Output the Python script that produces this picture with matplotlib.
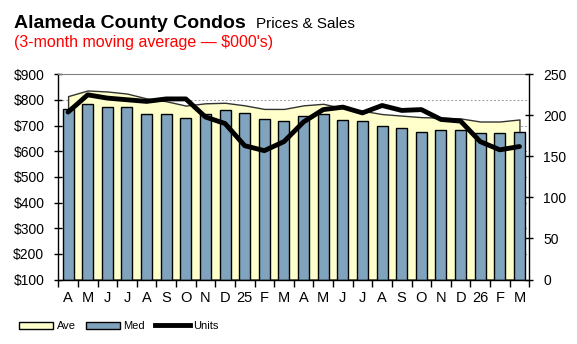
import matplotlib
matplotlib.use("Agg")
import matplotlib.pyplot as plt
from matplotlib.patches import Patch
from matplotlib.lines import Line2D
from matplotlib.ticker import FixedLocator

plt.rcParams["font.family"] = ["Liberation Sans", "DejaVu Sans"]

months = ["A", "M", "J", "J", "A", "S", "O", "N", "D", "25", "F", "M",
          "A", "M", "J", "J", "A", "S", "O", "N", "D", "26", "F", "M"]
ave = [815, 837, 833, 825, 806, 795, 778, 787, 789, 779, 765, 765,
       779, 785, 768, 758, 745, 739, 733, 731, 728, 716, 716, 724]
med = [764, 783, 771, 771, 745, 745, 728, 744, 759, 748, 725, 717,
       736, 744, 721, 717, 697, 689, 674, 682, 682, 671, 671, 675]
units = [204, 225, 221, 219, 217, 220, 220, 198, 190, 163, 157, 168,
         192, 207, 210, 203, 212, 206, 207, 195, 193, 168, 158, 162]

AVE_COLOR = "#FFFFCC"
MED_COLOR = "#80A4BE"


def main():
    fig = plt.figure(figsize=(5.77, 3.44), dpi=100)
    ax = fig.add_axes([0.101, 0.1875, 0.8163, 0.5965])
    x = list(range(len(months)))

    # gridlines behind everything
    for v in range(100, 900, 100):
        ax.axhline(v, color="#999999", lw=0.7, ls=(0, (2, 2)), zorder=0)

    ax.fill_between(x, 100, ave, facecolor=AVE_COLOR, edgecolor="#333333",
                    lw=1, zorder=1)
    ax.bar(x, [m - 100 for m in med], bottom=100, width=0.56, color=MED_COLOR,
           edgecolor="black", lw=1, zorder=2)

    ax.set_xlim(-0.5, len(months) - 0.5)
    ax.set_ylim(100, 900)
    ax.set_yticks(range(100, 1000, 100))
    ax.set_yticklabels([f"${v}" for v in range(100, 1000, 100)])
    ax.set_xticks(x)
    ax.set_xticklabels(months)
    ax.xaxis.set_minor_locator(FixedLocator([i - 0.5 for i in range(len(months) + 1)]))
    ax.tick_params(axis="x", which="major", length=0, pad=8, labelsize=10.5)
    ax.tick_params(axis="x", which="minor", length=5, width=1, direction="out")
    ax.tick_params(axis="y", length=6, width=1, direction="inout", pad=7, labelsize=10)
    for side in ["left", "bottom"]:
        ax.spines[side].set_linewidth(1)
    ax.spines["right"].set_visible(False)
    ax.spines["top"].set_color("#808080")

    ax2 = ax.twinx()
    ax2.plot(x, units, color="black", lw=3.5, solid_capstyle="round",
             solid_joinstyle="round", zorder=3)
    ax2.set_ylim(0, 250)
    ax2.set_yticks(range(0, 300, 50))
    ax2.tick_params(axis="y", length=6, width=1, direction="inout", pad=7, labelsize=10)
    for side in ["left", "top", "bottom"]:
        ax2.spines[side].set_visible(False)
    ax2.spines["right"].set_linewidth(1)

    fig.text(14 / 577, 1 - 28.3 / 344, "Alameda County Condos", fontsize=14,
             fontweight="bold", va="baseline")
    fig.text(256 / 577, 1 - 28.3 / 344, "Prices & Sales", fontsize=11, va="baseline")
    fig.text(14 / 577, 1 - 47 / 344, "(3-month moving average \u2014 $000's)",
             fontsize=11.5, color="red", va="baseline")

    handles = [Patch(facecolor=AVE_COLOR, edgecolor="black", lw=1),
               Patch(facecolor=MED_COLOR, edgecolor="black", lw=1),
               Line2D([], [], color="black", lw=3.5)]
    fig.legend(handles, ["Ave", "Med", "Units"], ncol=3, frameon=False,
               loc="center left", bbox_to_anchor=(19 / 577, 1 - 326 / 344),
               fontsize=8, handlelength=3.1, handleheight=0.6,
               handletextpad=0.3, columnspacing=0.9, borderpad=0, borderaxespad=0)

    fig.savefig("out.png", dpi=100)


main()
